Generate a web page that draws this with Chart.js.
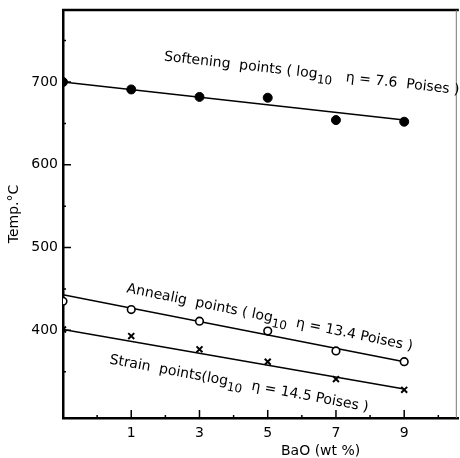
<!DOCTYPE html>
<html>
<head>
<meta charset="utf-8">
<script src="https://cdn.jsdelivr.net/npm/chart.js@4/dist/chart.umd.min.js"></script>
<style>
  html, body { margin: 0; padding: 0; background: #fff; overflow: hidden; }
  #wrap { width: 465px; height: 458px; }
</style>
</head>
<body>
<div id="wrap"><canvas id="viscChart"></canvas></div>
<script>
// BaO content (wt %) - first point sits on the axis
const baoContent = [-1, 1, 3, 5, 7, 9];
const softeningPts = [700, 691, 682, 681, 654, 652];
const annealingPts = [435, 425, 411, 399, 375, 362];
const strainPts = [401, 393, 377, 362, 341, 328];

// fitted lines (start / end)
const fitX = [-1, 9];
const softeningFit = [700, 654];
const annealingFit = [443, 362];
const strainFit = [401, 329];

const xTickLabels = [1, 3, 5, 7, 9];
const xMinorTicks = [0, 2, 4, 6, 8, 10];
const yTickLabels = [400, 500, 600, 700];
const yMinorTicks = [350, 450, 550, 650, 750];

const FONT = 'DejaVu Sans';

function pts(xs, ys) {
    return xs.map((x, i) => ({ x: x, y: ys[i] }));
}

// inner ticks, top/right frame, x title and curve labels
const decorPlugin = {
    id: 'decor',
    afterDraw(chart) {
        const ctx = chart.ctx;
        const a = chart.chartArea;
        const xs = chart.scales.x, ys = chart.scales.y;
        ctx.save();
        ctx.strokeStyle = '#000';
        // frame
        ctx.lineWidth = 2.5;
        ctx.beginPath();
        ctx.moveTo(a.left - 1, a.top);
        ctx.lineTo(a.right, a.top);
        ctx.stroke();
        ctx.lineWidth = 1;
        ctx.strokeStyle = '#777';
        ctx.beginPath();
        ctx.moveTo(a.right - 2.5, a.top);
        ctx.lineTo(a.right - 2.5, a.bottom);
        ctx.stroke();
        // ticks
        ctx.strokeStyle = '#000';
        ctx.lineWidth = 1.5;
        ctx.beginPath();
        xTickLabels.forEach(v => { const p = xs.getPixelForValue(v); ctx.moveTo(p, a.bottom); ctx.lineTo(p, a.bottom - 8); });
        xMinorTicks.forEach(v => { const p = xs.getPixelForValue(v); ctx.moveTo(p, a.bottom); ctx.lineTo(p, a.bottom - 3); });
        yTickLabels.forEach(v => { const p = ys.getPixelForValue(v); ctx.moveTo(a.left, p); ctx.lineTo(a.left + 8, p); });
        yMinorTicks.forEach(v => { const p = ys.getPixelForValue(v); ctx.moveTo(a.left, p); ctx.lineTo(a.left + 3, p); });
        ctx.stroke();

        ctx.fillStyle = '#000';
        // x axis title, set off to the right like the original
        ctx.font = '14px ' + FONT;
        ctx.textAlign = 'center';
        ctx.textBaseline = 'middle';
        ctx.fillText('BaO (wt %)', xs.getPixelForValue(6.55), 451);

        // labels along the lines
        const labels = [
            { x: 1.95, y: 726, angle: 6.5, parts: ['Softening  points ( log', '10', '   η = 7.6  Poises )'] },
            { x: 0.85, y: 446, angle: 11.5, parts: ['Annealig  points ( log', '10', '  η = 13.4 Poises )'] },
            { x: 0.35, y: 360, angle: 10.5, parts: ['Strain  points(log', '10', '  η = 14.5 Poises )'] }
        ];
        ctx.textAlign = 'left';
        ctx.textBaseline = 'alphabetic';
        labels.forEach(l => {
            ctx.save();
            ctx.translate(xs.getPixelForValue(l.x), ys.getPixelForValue(l.y));
            ctx.rotate(l.angle * Math.PI / 180);
            let cx = 0;
            l.parts.forEach((t, i) => {
                const sub = i === 1;
                ctx.font = (sub ? '12px ' : '14px ') + FONT;
                ctx.fillText(t, cx, sub ? 5 : 0);
                cx += ctx.measureText(t).width;
            });
            ctx.restore();
        });
        ctx.restore();
    }
};

const ctx = document.getElementById('viscChart').getContext('2d');
const viscChart = new Chart(ctx, {
    type: 'scatter',
    data: {
        datasets: [
            {
                label: 'Softening points',
                data: pts(baoContent, softeningPts),
                pointStyle: 'circle',
                pointRadius: 4.5,
                backgroundColor: '#000',
                borderColor: '#000'
            },
            {
                label: 'Annealing points',
                data: pts(baoContent, annealingPts),
                pointStyle: 'circle',
                pointRadius: 3.8,
                borderWidth: 1.6,
                backgroundColor: '#fff',
                borderColor: '#000'
            },
            {
                label: 'Strain points',
                data: pts(baoContent, strainPts),
                pointStyle: 'crossRot',
                pointRadius: 4.2,
                borderWidth: 2,
                borderColor: '#000'
            },
            {
                type: 'line',
                label: 'Softening fit',
                data: pts(fitX, softeningFit),
                borderColor: '#000',
                borderWidth: 1.5,
                pointRadius: 0
            },
            {
                type: 'line',
                label: 'Annealing fit',
                data: pts(fitX, annealingFit),
                borderColor: '#000',
                borderWidth: 1.5,
                pointRadius: 0
            },
            {
                type: 'line',
                label: 'Strain fit',
                data: pts(fitX, strainFit),
                borderColor: '#000',
                borderWidth: 1.5,
                pointRadius: 0
            }
        ]
    },
    options: {
        responsive: true,
        maintainAspectRatio: false,
        animation: false,
        layout: { padding: { top: 10, right: 0, left: 0, bottom: 0 } },
        plugins: {
            legend: { display: false },
            tooltip: { enabled: false }
        },
        scales: {
            x: {
                type: 'linear',
                min: -1,
                max: 10.6,
                afterBuildTicks: s => { s.ticks = xTickLabels.map(v => ({ value: v })); },
                afterFit: s => { s.height = 40; s.paddingLeft = 0; s.paddingRight = 0; },
                grid: { display: false, drawTicks: false },
                border: { color: '#000', width: 2.5 },
                ticks: { color: '#000', padding: 7, font: { family: FONT, size: 14 } }
            },
            y: {
                min: 294,
                max: 787,
                afterBuildTicks: s => { s.ticks = yTickLabels.map(v => ({ value: v })); },
                afterFit: s => { s.width = 63; s.paddingTop = 0; s.paddingBottom = 0; },
                grid: { display: false, drawTicks: false },
                border: { color: '#000', width: 2.5 },
                ticks: { color: '#000', padding: 5, font: { family: FONT, size: 14 } },
                title: { display: true, text: 'Temp.°C', color: '#000', padding: { top: 6, bottom: 0 }, font: { family: FONT, size: 14 } }
            }
        }
    },
    plugins: [decorPlugin]
});
</script>
</body>
</html>
